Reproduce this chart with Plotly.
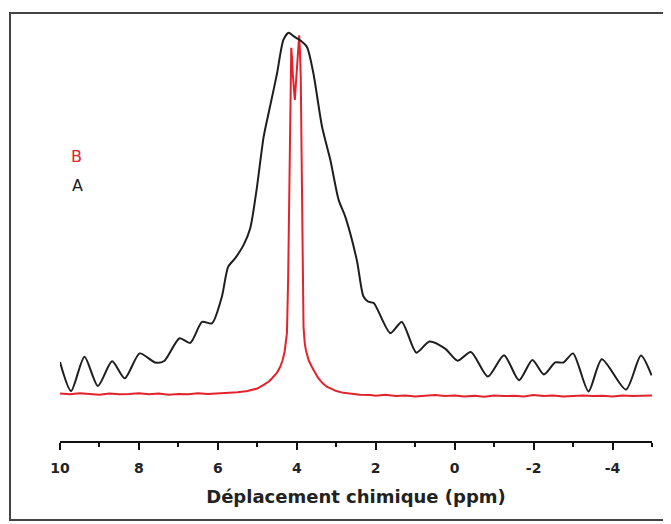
import plotly.graph_objects as go

# ---- data (chemical shift in ppm, relative intensity) ----
a_x = [10.00, 9.72, 9.38, 9.04, 8.68, 8.36, 7.98, 7.59, 7.36, 6.97, 6.70, 6.40, 6.15,
       5.90, 5.74, 5.56, 5.35, 5.18, 5.02, 4.84, 4.67, 4.50, 4.34, 4.21, 4.09, 3.99,
       3.89, 3.74, 3.58, 3.36, 3.15, 2.94, 2.77, 2.48, 2.31, 2.19, 2.05, 1.63, 1.34,
       0.97, 0.64, 0.24, -0.07, -0.41, -0.84, -1.25, -1.63, -1.97, -2.26, -2.55,
       -2.76, -3.00, -3.39, -3.73, -4.34, -4.72, -4.99]
a_y = [9.1, 1.1, 10.6, 2.5, 9.3, 4.6, 11.5, 9.0, 9.4, 15.7, 14.4, 20.2, 19.8,
       27.1, 35.4, 37.8, 41.4, 46.1, 56.6, 71.3, 80.1, 88.9, 98.1, 100.1, 99.2, 98.5,
       97.8, 96.1, 88.9, 74.1, 64.9, 53.9, 49.2, 37.3, 27.2, 25.8, 25.4, 17.1, 20.2,
       11.7, 14.8, 12.8, 9.5, 11.9, 5.1, 11.0, 4.1, 9.7, 5.7, 9.0,
       9.0, 11.5, 1.0, 9.9, 1.5, 10.9, 5.4]

b_x = [10.0, 9.75, 9.5, 9.25, 9.0, 8.75, 8.5, 8.25, 8.0, 7.75, 7.5, 7.25, 7.0, 6.75,
       6.5, 6.25, 6.0, 5.75, 5.5, 5.25, 5.0, 4.84, 4.70, 4.62, 4.50, 4.42, 4.36, 4.31,
       4.27, 4.25, 4.22, 4.19, 4.16, 4.14, 4.12, 4.10, 4.05, 4.01, 3.99, 3.96, 3.94,
       3.92, 3.90, 3.88, 3.85, 3.83, 3.80, 3.77, 3.70, 3.62, 3.46, 3.35, 3.24, 3.00,
       2.82, 2.60, 2.40, 2.14, 2.0, 1.75, 1.5, 1.25, 1.0, 0.75, 0.5, 0.25, 0.0, -0.25,
       -0.5, -0.75, -1.0, -1.25, -1.5, -1.75, -2.0, -2.25, -2.5, -2.75, -3.0, -3.25,
       -3.5, -3.75, -4.0, -4.25, -4.5, -4.75, -5.0]
b_y = [0.4, 0.2, 0.5, 0.3, 0.1, 0.4, 0.2, 0.3, 0.5, 0.2, 0.4, 0.1, 0.3, 0.2,
       0.5, 0.3, 0.4, 0.6, 0.8, 1.1, 1.8, 2.8, 3.8, 4.7, 6.2, 7.8, 9.6, 11.9,
       15.0, 17.1, 31.8, 53.9, 76.0, 95.9, 93.0, 88.5, 81.5, 88.0, 92.5, 97.0, 99.4,
       95.0, 88.0, 67.7, 40.1, 18.9, 14.5, 12.4, 9.6, 7.8, 4.7, 3.3, 2.3, 1.1,
       0.6, 0.3, 0.1, 0.0, -0.2, 0.1, -0.3, -0.1, -0.4, -0.2, 0.0, -0.3, -0.1, -0.4,
       -0.2, -0.5, -0.1, -0.3, -0.2, -0.4, 0.0, -0.3, -0.1, -0.4, -0.2, -0.1,
       -0.3, -0.2, -0.4, -0.1, -0.3, -0.2, -0.1]

x_ticks = [10, 8, 6, 4, 2, 0, -2, -4]
x_title = "Déplacement chimique (ppm)"

fig = go.Figure()
fig.add_trace(go.Scatter(x=b_x, y=b_y, mode="lines", name="B",
                         line=dict(color="#e3232c", width=2)))
fig.add_trace(go.Scatter(x=a_x, y=a_y, mode="lines", name="A",
                         line=dict(color="#1e1e1e", width=2, shape="spline", smoothing=0.7)))

# page body adds an 8px offset; compensate in size/margins
fig.update_layout(
    width=663, height=516,
    margin=dict(l=52, r=19, t=12, b=83),
    paper_bgcolor="white", plot_bgcolor="white",
    showlegend=False,
    font=dict(family="DejaVu Sans", color="#222"),
    xaxis=dict(
        range=[10, -5], showgrid=False, zeroline=False,
        showline=True, linecolor="#111", linewidth=2,
        tickmode="array", tickvals=x_ticks, ticktext=[str(v) for v in x_ticks],
        ticks="outside", ticklen=7, tickwidth=2, tickcolor="#111",
        ticklabelstandoff=6,
        minor=dict(tickvals=[9, 7, 5, 3, 1, -1, -3, -5], ticks="outside",
                   ticklen=4, tickwidth=1.5, tickcolor="#111"),
        tickfont=dict(family="DejaVu Sans", size=14, color="#222", weight="bold"),
        title=dict(text=x_title, standoff=16,
                   font=dict(family="DejaVu Sans", size=18, color="#222", weight="bold")),
    ),
    yaxis=dict(range=[-12.7, 103.6], visible=False),
    shapes=[dict(type="rect", xref="paper", yref="paper",
                 x0=-50/592, x1=607/592, y0=-79/421, y1=428/421,
                 line=dict(color="#444", width=2))],
    annotations=[
        dict(text="B", x=9.0/592, y=296/421, xref="paper", yref="paper",
             showarrow=False, font=dict(size=16, color="#e3232c")),
        dict(text="A", x=10.0/592, y=256/421, xref="paper", yref="paper",
             showarrow=False, font=dict(size=16, color="#1e1e1e")),
    ],
)

fig.write_html("out.html")
